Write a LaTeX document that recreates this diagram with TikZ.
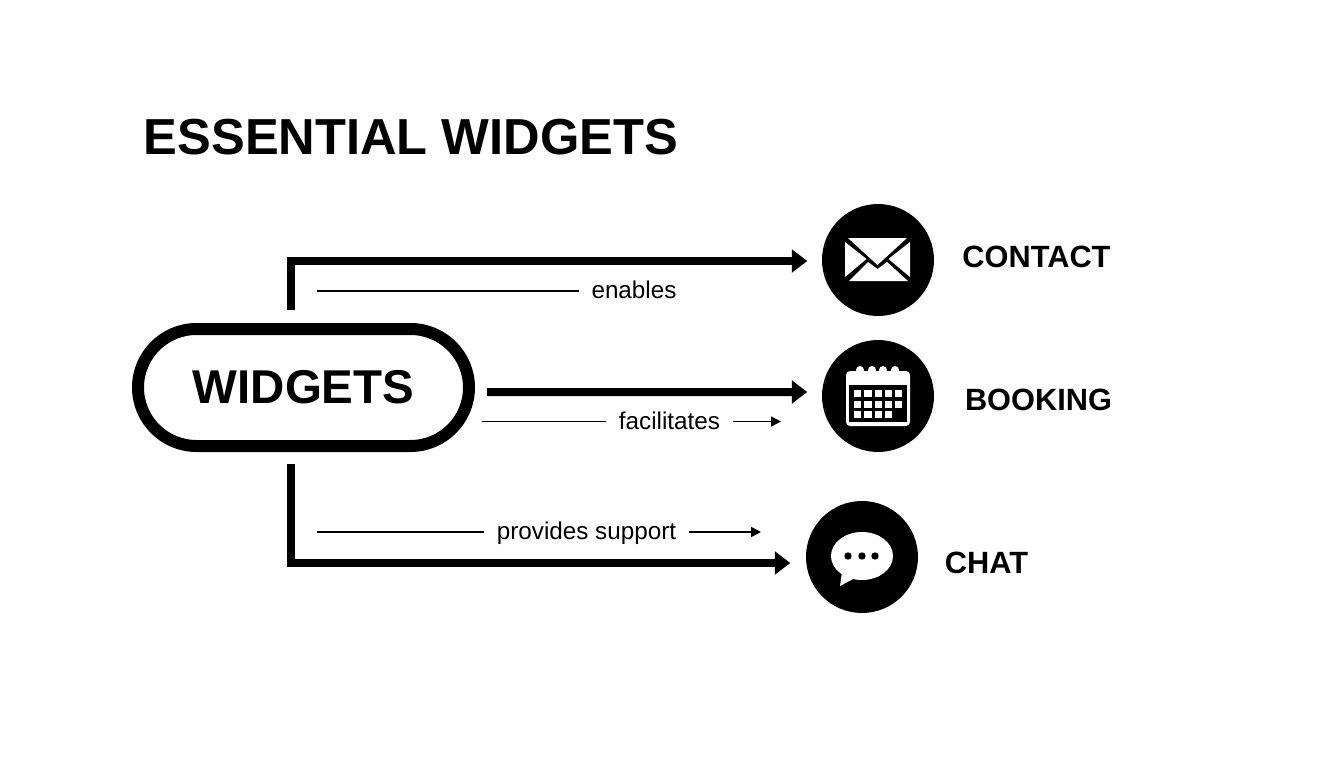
\documentclass[tikz,border=0pt]{standalone}
\usepackage{fontspec}
\setmainfont{Liberation Sans}
\usetikzlibrary{arrows.meta,shapes.misc}

\tikzset{
  thickarrow/.style={line width=0.08cm, -{Triangle[length=0.155cm,width=0.225cm]}},
  thickcorner/.style={line join=miter},
  thinline/.style={line width=0.017cm},
  thinarrow/.style={thinline, -{Triangle[length=0.1cm,width=0.1cm]}},
  iconcircle/.style={circle, fill=black, minimum size=1.12cm, inner sep=0pt},
  linklabel/.style={inner sep=0.12cm, font=\fontsize{6.9pt}{8pt}\selectfont},
  targetlabel/.style={inner sep=0pt, font=\fontsize{8.75pt}{10pt}\selectfont\bfseries}
}

\begin{document}
\begin{tikzpicture}
  \useasboundingbox (0,0) rectangle (13.44,-7.68);
  \node[inner sep=0pt, font=\fontsize{14.4pt}{16pt}\selectfont\bfseries] (title) at (4.11,-1.37) {ESSENTIAL WIDGETS};

  \node[draw, rounded rectangle, line width=0.12cm, minimum width=3.31cm, minimum height=1.17cm, inner sep=0pt, font=\fontsize{13.5pt}{15pt}\selectfont\bfseries] (widgets) at (3.035,-3.875) {WIDGETS};

  \node[iconcircle] (contact) at (8.78,-2.60) {};
  \node[iconcircle] (booking) at (8.78,-3.96) {};
  \node[iconcircle] (chat) at (8.62,-5.57) {};

  \node[targetlabel] (contactlabel) at (10.365,-2.57) {CONTACT};
  \node[targetlabel] (bookinglabel) at (10.385,-4.00) {BOOKING};
  \node[targetlabel] (chatlabel) at (9.865,-5.63) {CHAT};

  % thick arrows
  \draw[thickarrow, thickcorner] ([xshift=-0.125cm,yshift=0.13cm]widgets.north) |- ([xshift=-0.14cm,yshift=-0.01cm]contact.west);
  \draw[thickarrow] ([xshift=0.12cm,yshift=-0.045cm]widgets.east) -- ([xshift=-0.14cm,yshift=0.04cm]booking.west);
  \draw[thickarrow, thickcorner] ([xshift=-0.125cm,yshift=-0.12cm]widgets.south) |- ([xshift=-0.15cm,yshift=-0.06cm]chat.west);

  % thin lines with labels
  \node[linklabel] (enables) at (6.34,-2.90) {enables};
  \coordinate (enablesstart) at (3.17,-2.91);
  \draw[thinline] (enablesstart) -- (enablesstart -| enables.west);

  \node[linklabel] (facilitates) at (6.695,-4.21) {facilitates};
  \coordinate (facilitatesstart) at (4.82,-4.215);
  \coordinate (facilitatesend) at (7.81,-4.215);
  \draw[thinline] (facilitatesstart) -- (facilitatesstart -| facilitates.west);
  \draw[thinarrow] (facilitatesend -| facilitates.east) -- (facilitatesend);

  \node[linklabel] (support) at (5.865,-5.33) {provides support};
  \coordinate (supportstart) at (3.17,-5.32);
  \coordinate (supportend) at (7.61,-5.32);
  \draw[thinline] (supportstart) -- (supportstart -| support.west);
  \draw[thinarrow] (supportend -| support.east) -- (supportend);

  % envelope
  \fill[white] (8.48,-2.38) -- (9.07,-2.38) -- (8.775,-2.65) -- cycle;
  \fill[white] (8.45,-2.42) -- (8.45,-2.77) -- (8.665,-2.59) -- cycle;
  \fill[white] (9.10,-2.42) -- (9.10,-2.77) -- (8.885,-2.59) -- cycle;
  \fill[white] (8.49,-2.81) -- (9.08,-2.81) -- (8.87,-2.62) -- (8.775,-2.69) -- (8.68,-2.62) -- cycle;

  % calendar
  \foreach \x in {8.60,8.72,8.83,8.95} {
    \fill[white] (\x,-3.70) circle (0.04cm);
  }
  \fill[white, rounded corners=0.04cm] (8.46,-3.71) rectangle (9.10,-4.26);
  \fill[black] (8.49,-3.85) rectangle (9.07,-4.22);
  \foreach \x in {8.54,8.643,8.747,8.847,8.95} {
    \fill[white] (\x,-3.90) rectangle +(0.073,-0.07);
    \fill[white] (\x,-4.007) rectangle +(0.073,-0.07);
  }
  \foreach \x in {8.54,8.643,8.747,8.847} {
    \fill[white] (\x,-4.107) rectangle +(0.073,-0.07);
  }

  % chat bubble
  \fill[white] (8.62,-5.56) ellipse (0.31cm and 0.24cm);
  \fill[white] (8.42,-5.72) -- (8.40,-5.86) -- (8.55,-5.78) -- cycle;
  \foreach \x in {8.48,8.62,8.75} {
    \fill[black] (\x,-5.56) circle (0.037cm);
  }
\end{tikzpicture}
\end{document}
